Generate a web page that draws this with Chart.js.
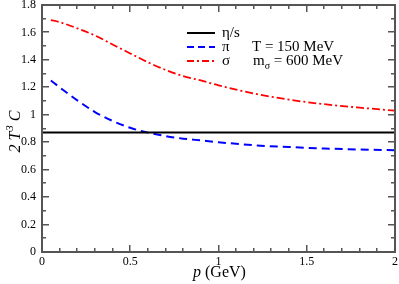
<!DOCTYPE html>
<html>
<head>
<meta charset="utf-8">
<script src="https://cdn.jsdelivr.net/npm/chart.js@4/dist/chart.umd.min.js"></script>
<style>
  html, body { margin: 0; padding: 0; background: #fff; }
  #wrap { width: 399px; height: 284px; }
</style>
</head>
<body>
<div id="wrap"><canvas id="c"></canvas></div>
<script>
const momenta = [0.05, 0.1, 0.2, 0.3, 0.4, 0.5, 0.6, 0.7, 0.8, 0.9, 1.0, 1.2, 1.4, 1.6, 1.8, 2.0];
const pionValues = [1.25, 1.20, 1.105, 1.02, 0.955, 0.905, 0.87, 0.845, 0.826, 0.813, 0.80, 0.778, 0.765, 0.754, 0.747, 0.742];
const sigmaValues = [1.69, 1.675, 1.63, 1.578, 1.512, 1.447, 1.383, 1.327, 1.282, 1.25, 1.215, 1.155, 1.11, 1.077, 1.052, 1.03];
const etaOverS = 0.87;
const xTicks = [0, 0.5, 1, 1.5, 2];
const yTicks = [0, 0.2, 0.4, 0.6, 0.8, 1, 1.2, 1.4, 1.6, 1.8];

const serif = '"Liberation Serif", "DejaVu Serif", serif';

function points(xs, ys) {
    return xs.map((x, i) => ({ x: x, y: ys[i] }));
}

// frame with inward ticks on all four sides
const framePlugin = {
    id: 'frame',
    afterDatasetsDraw(chart) {
        const ctx = chart.ctx;
        const a = chart.chartArea;
        const xs = chart.scales.x;
        const ys = chart.scales.y;
        ctx.save();
        ctx.fillStyle = '#555';
        const L = Math.round(a.left), R = Math.round(a.right);
        const T = Math.round(a.top), B = Math.round(a.bottom);
        ctx.fillRect(L - 1, T - 1, R - L + 2, 2);
        ctx.fillRect(L - 1, B - 1, R - L + 2, 2);
        ctx.fillRect(L - 1, T - 1, 2, B - T + 2);
        ctx.fillRect(R - 1, T - 1, 2, B - T + 2);
        for (let i = 0; i <= 20; i++) {
            const px = Math.round(xs.getPixelForValue(i / 10));
            const len = i % 5 === 0 ? 7 : 4;
            ctx.fillRect(px - 1, B - len, 1.5, len);
            ctx.fillRect(px - 1, T, 1.5, len);
        }
        for (let i = 0; i <= 18; i++) {
            const py = Math.round(ys.getPixelForValue(i / 10));
            const len = i % 2 === 0 ? 7 : 4;
            ctx.fillRect(L, py - 1, len, 1.5);
            ctx.fillRect(R - len, py - 1, len, 1.5);
        }
        ctx.restore();
    }
};

// legend and axis titles
const textPlugin = {
    id: 'texts',
    afterDraw(chart) {
        const ctx = chart.ctx;
        ctx.save();
        const lx = 187;
        const rows = [
            { y: 33, color: '#000', dash: [], label: 'η/s' },
            { y: 47, color: '#0000ff', dash: [7, 4], label: 'π' },
            { y: 61, color: '#ff0000', dash: [7, 3, 2, 3], label: 'σ' }
        ];
        rows.forEach(r => {
            ctx.beginPath();
            ctx.setLineDash(r.dash);
            ctx.strokeStyle = r.color;
            ctx.lineWidth = 2;
            ctx.moveTo(lx, r.y); ctx.lineTo(lx + 28, r.y);
            ctx.stroke();
        });
        ctx.setLineDash([]);
        ctx.fillStyle = '#000';
        ctx.font = '15px ' + serif;
        ctx.textBaseline = 'middle';
        ctx.textAlign = 'left';
        rows.forEach(r => ctx.fillText(r.label, lx + 35, r.y));
        ctx.fillText('T = 150 MeV', lx + 65, 47);
        ctx.fillText('m', lx + 66, 61);
        const w = ctx.measureText('m').width;
        ctx.font = '10px ' + serif;
        ctx.fillText('σ', lx + 66 + w, 66);
        const w2 = ctx.measureText('σ').width;
        ctx.font = '15px ' + serif;
        ctx.fillText(' = 600 MeV', lx + 66 + w + w2, 61);

        // x title
        ctx.textBaseline = 'alphabetic';
        ctx.font = 'italic 16px ' + serif;
        const tw = ctx.measureText('p').width;
        ctx.fillText('p', 193, 277);
        ctx.font = '16px ' + serif;
        ctx.fillText(' (GeV)', 193 + tw, 277);

        // y title, rotated
        ctx.translate(20, 132);
        ctx.rotate(-Math.PI / 2);
        ctx.font = 'italic 16px ' + serif;
        const p1 = '2 T';
        const w1 = ctx.measureText(p1).width;
        ctx.font = 'italic 11px ' + serif;
        const ws = ctx.measureText('3').width;
        ctx.font = 'italic 16px ' + serif;
        const w3 = ctx.measureText(' C').width;
        const sx = -(w1 + ws + w3) / 2;
        ctx.fillText(p1, sx, 0);
        ctx.font = 'italic 11px ' + serif;
        ctx.fillText('3', sx + w1 + 1, -7);
        ctx.font = 'italic 16px ' + serif;
        ctx.fillText(' C', sx + w1 + ws + 1, 0);
        ctx.restore();
    }
};

new Chart(document.getElementById('c'), {
    type: 'line',
    data: {
        datasets: [
            {
                label: 'η/s',
                data: points([0, 2], [etaOverS, etaOverS]),
                borderColor: '#000',
                borderWidth: 2,
                pointRadius: 0
            },
            {
                label: 'π',
                data: points(momenta, pionValues),
                borderColor: '#0000ff',
                borderWidth: 2,
                borderDash: [8, 5],
                pointRadius: 0,
                cubicInterpolationMode: 'monotone'
            },
            {
                label: 'σ',
                data: points(momenta, sigmaValues),
                borderColor: '#ff0000',
                borderWidth: 1.8,
                borderDash: [8, 3, 2, 3],
                pointRadius: 0,
                cubicInterpolationMode: 'monotone'
            }
        ]
    },
    options: {
        responsive: true,
        maintainAspectRatio: false,
        animation: false,
        layout: { padding: { top: 5, right: 4, left: 0, bottom: 0 } },
        plugins: { legend: { display: false }, tooltip: { enabled: false } },
        scales: {
            x: {
                type: 'linear',
                min: 0,
                max: 2,
                grid: { display: false, drawTicks: false },
                border: { display: false },
                afterBuildTicks: s => { s.ticks = xTicks.map(v => ({ value: v })); },
                afterFit: s => { s.height = 32; s.paddingLeft = 0; s.paddingRight = 0; },
                ticks: {
                    color: '#000',
                    font: { family: serif, size: 12 },
                    padding: 3,
                    maxRotation: 0,
                    callback: v => String(v)
                }
            },
            y: {
                min: 0,
                max: 1.8,
                grid: { display: false, drawTicks: false },
                border: { display: false },
                afterBuildTicks: s => { s.ticks = yTicks.map(v => ({ value: v })); },
                afterFit: s => { s.width = 42; s.paddingTop = 0; s.paddingBottom = 0; },
                ticks: {
                    color: '#000',
                    font: { family: serif, size: 12 },
                    padding: 6,
                    callback: v => String(Math.round(v * 10) / 10)
                }
            }
        }
    },
    plugins: [framePlugin, textPlugin]
});
</script>
</body>
</html>
